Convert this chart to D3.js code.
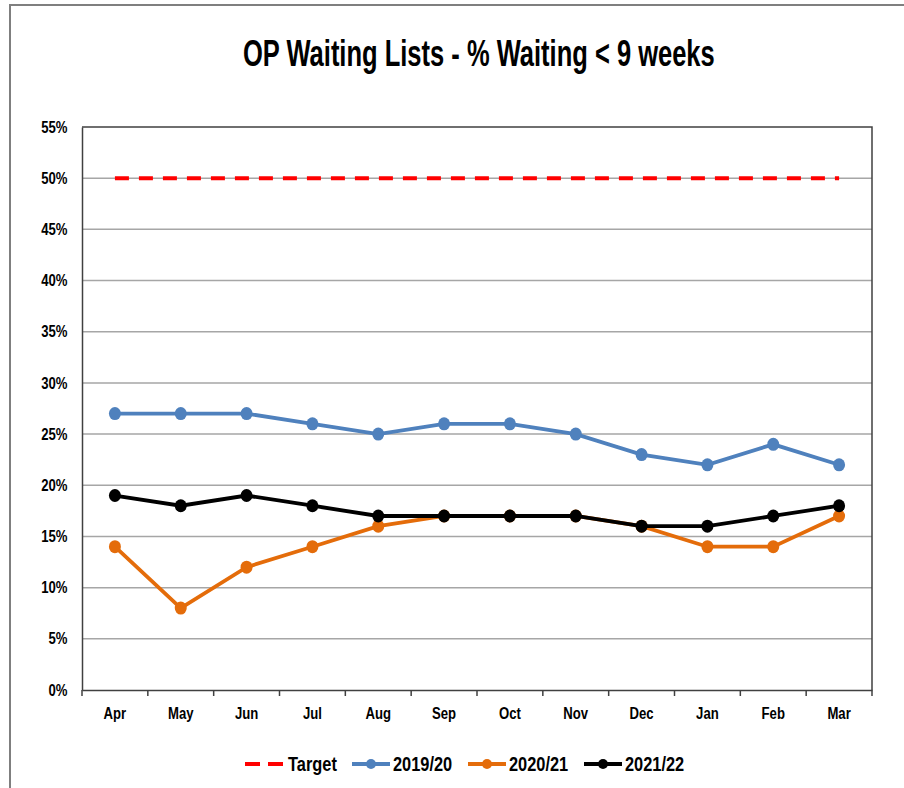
<!DOCTYPE html>
<html>
<head>
<meta charset="utf-8">
<script src="https://cdn.jsdelivr.net/npm/d3@7"></script>
<style>
  body { margin: 0; background: #fff; }
  svg text { font-family: "Liberation Sans", Arial, sans-serif; font-weight: bold; fill: #000; }
</style>
</head>
<body>
<div id="container" style="width:904px;height:788px"></div>
<script>
const width = 904, height = 788;

const months = ["Apr","May","Jun","Jul","Aug","Sep","Oct","Nov","Dec","Jan","Feb","Mar"];
const target = [50,50,50,50,50,50,50,50,50,50,50,50];
const s1920 = [27,27,27,26,25,26,26,25,23,22,24,22];
const s2021 = [14,8,12,14,16,17,17,17,16,14,14,17];
const s2122 = [19,18,19,18,17,17,17,17,16,16,17,18];
const yTicks = [0,5,10,15,20,25,30,35,40,45,50,55];

const series = [
  { name: "2019/20", values: s1920, color: "#4F81BD" },
  { name: "2020/21", values: s2021, color: "#E46C0A" },
  { name: "2021/22", values: s2122, color: "#000000" }
];

const margin = { left: 82, top: 127, right: 32, bottom: 98 };
const narrowK = 0.82; // Arial Narrow look

const svg = d3.create("svg")
    .attr("width", width)
    .attr("height", height);
document.getElementById("container").append(svg.node());

// squeeze a text horizontally around its anchor
function narrow(sel, x, y, k = narrowK) {
  sel.attr("x", 0).attr("y", 0)
     .attr("transform", `translate(${x},${y}) scale(${k},1)`);
}

// outer frame
svg.append("path")
    .attr("d", `M10,${height} L10,5 L${width},5`)
    .attr("fill", "none")
    .attr("stroke", "#7f7f7f")
    .attr("stroke-width", 2);

const title = svg.append("text")
    .style("font-size", "37px")
    .text("OP Waiting Lists - % Waiting < 9 weeks");
const tw = title.node().getComputedTextLength();
title.call(narrow, 243, 66, 472 / tw);

const x = d3.scaleBand().domain(months).range([margin.left, width - margin.right]);
const y = d3.scaleLinear().domain([0, 55]).range([height - margin.bottom, margin.top]);

// gridlines
svg.append("g")
    .selectAll("line")
    .data(yTicks.slice(1, -1))
    .join("line")
    .attr("x1", margin.left).attr("x2", width - margin.right)
    .attr("y1", d => y(d)).attr("y2", d => y(d))
    .attr("stroke", "#a6a6a6")
    .attr("stroke-width", 1.5);

// plot border top/right
svg.append("path")
    .attr("d", `M${margin.left},${y(55)} L${width - margin.right},${y(55)} L${width - margin.right},${y(0)}`)
    .attr("fill", "none")
    .attr("stroke", "#404040")
    .attr("stroke-width", 1.5);

// y axis
const yAxis = svg.append("g")
    .attr("transform", `translate(${margin.left},0)`)
    .call(d3.axisLeft(y).tickValues(yTicks).tickSize(0).tickFormat(d => d + "%"));
yAxis.select(".domain").attr("stroke", "#404040").attr("stroke-width", 1.5);
yAxis.selectAll("text").style("font-size", "16px").call(narrow, -14.5, 0);

// x axis
const xAxis = svg.append("g")
    .attr("transform", `translate(0,${y(0)})`)
    .call(d3.axisBottom(x).tickSize(0));
xAxis.select(".domain").attr("stroke", "#404040").attr("stroke-width", 1.5);
xAxis.selectAll("text").style("font-size", "16px").call(narrow, 0, 18);

// x tick marks at band edges
svg.append("g")
    .selectAll("line")
    .data(months.map(m => x(m)).concat([x.range()[1]]))
    .join("line")
    .attr("x1", d => d).attr("x2", d => d)
    .attr("y1", y(0)).attr("y2", y(0) + 6)
    .attr("stroke", "#404040")
    .attr("stroke-width", 1.5);

const cx = m => x(m) + x.bandwidth() / 2;
const line = d3.line().x((d, i) => cx(months[i])).y(d => y(d));

// target
svg.append("path")
    .datum(target)
    .attr("d", line)
    .attr("fill", "none")
    .attr("stroke", "#ff0000")
    .attr("stroke-width", 4)
    .attr("stroke-dasharray", "14,10");

series.forEach(s => {
  svg.append("path")
      .datum(s.values)
      .attr("d", line)
      .attr("fill", "none")
      .attr("stroke", s.color)
      .attr("stroke-width", 3.8);
  svg.append("g")
      .selectAll("ellipse")
      .data(s.values)
      .join("ellipse")
      .attr("cx", (d, i) => cx(months[i]))
      .attr("cy", d => y(d))
      .attr("rx", 6)
      .attr("ry", 6.5)
      .attr("fill", s.color);
});

// legend
const ly = 764;
const legend = svg.append("g");
const lg1 = legend.append("g").attr("transform", "translate(245,0)");
lg1.append("line").attr("x1", 0).attr("x2", 38).attr("y1", ly).attr("y2", ly)
    .attr("stroke", "#ff0000").attr("stroke-width", 4).attr("stroke-dasharray", "15,8");
lg1.append("text").attr("dy", "0.35em").style("font-size", "20px").text("Target").call(narrow, 43, ly);

const legX = [352, 468, 584];
series.forEach((s, i) => {
  const g = legend.append("g").attr("transform", `translate(${legX[i]},0)`);
  g.append("line").attr("x1", 0).attr("x2", 38).attr("y1", ly).attr("y2", ly)
      .attr("stroke", s.color).attr("stroke-width", 4);
  g.append("circle").attr("cx", 19).attr("cy", ly).attr("r", 5).attr("fill", s.color);
  g.append("text").attr("dy", "0.35em").style("font-size", "20px").text(s.name).call(narrow, 41, ly);
});
</script>
</body>
</html>
